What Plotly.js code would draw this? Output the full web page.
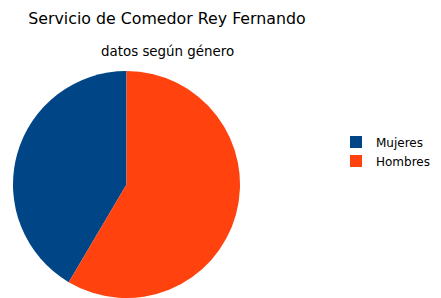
<!DOCTYPE html>
<html><head><meta charset="utf-8">
<script src="https://cdn.plot.ly/plotly-3.0.1.min.js"></script>
<style>html,body{margin:0;padding:0;background:#fff}#c{width:441px;height:298px}</style>
</head><body><div id="c"></div>
<script>
const labels = ["Mujeres", "Hombres"];
const values = [41.5, 58.5];
const colors = ["#004586", "#ff420e"];

const W = 441, H = 298;
const total = values.reduce((a, b) => a + b, 0);
Plotly.newPlot("c", [{
  type: "pie",
  labels: labels,
  values: values,
  sort: false,
  direction: "clockwise",
  rotation: -360 * values[0] / total,
  marker: {colors: colors, line: {width: 0}},
  textinfo: "none",
  hoverinfo: "none",
  domain: {x: [12.5/W, 240.5/W], y: [0, 227/H]}
}], {
  width: W, height: H,
  margin: {l: 0, r: 0, t: 0, b: 0},
  paper_bgcolor: "#fff",
  font: {family: "DejaVu Sans", color: "#000"},
  title: {text: "Servicio de Comedor Rey Fernando", font: {size: 15.8, family: "DejaVu Sans", color: "#000"},
          x: 167/W, xanchor: "center", y: 1 - 18/H, yanchor: "middle"},
  annotations: [{text: "datos según género", showarrow: false, xref: "paper", yref: "paper",
                 x: 167/W, y: 1 - 52/H, xanchor: "center", yanchor: "middle",
                 font: {size: 13.4, family: "DejaVu Sans", color: "#000"}}],
  showlegend: true,
  legend: {x: 1 - 6/W, y: 1 - 127.5/H, xanchor: "right", yanchor: "top",
           font: {size: 12, family: "DejaVu Sans", color: "#000"},
           tracegroupgap: 0, itemwidth: 30}
}, {displayModeBar: false, staticPlot: true});
</script></body></html>
